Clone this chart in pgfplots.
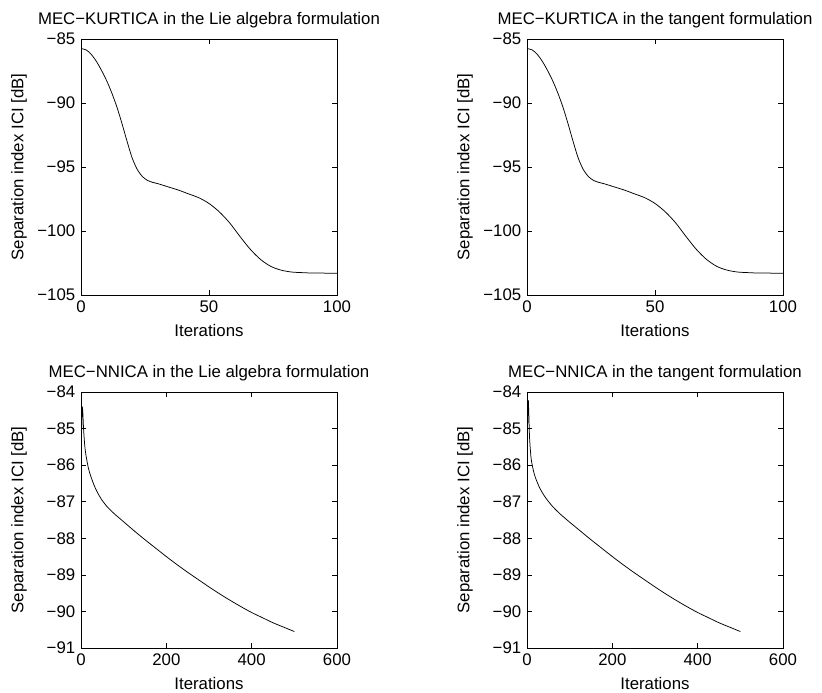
\documentclass[border=0pt]{standalone}
\usepackage{pgfplots}
\pgfplotsset{compat=1.18}
\usepackage{fontspec}
\setmainfont{Liberation Sans}

\pgfplotstableread{
x y
0 -85.75
2 -85.85
4 -86.2
6 -86.75
8 -87.45
10 -88.25
12 -89.2
14 -90.3
16 -91.6
18 -93.0
20 -94.3
22 -95.2
24 -95.75
26 -96.05
28 -96.2
30 -96.3
34 -96.55
38 -96.8
42 -97.1
46 -97.4
50 -97.85
54 -98.5
58 -99.35
62 -100.4
66 -101.4
70 -102.2
74 -102.75
78 -103.05
82 -103.2
86 -103.25
90 -103.28
100 -103.3
}\kurtLie

\pgfplotstableread{
x y
0 -85.75
2 -85.85
4 -86.2
6 -86.75
8 -87.45
10 -88.25
12 -89.2
14 -90.3
16 -91.6
18 -93.0
20 -94.3
22 -95.2
24 -95.75
26 -96.05
28 -96.2
30 -96.3
34 -96.55
38 -96.8
42 -97.1
46 -97.4
50 -97.85
54 -98.5
58 -99.35
62 -100.4
66 -101.4
70 -102.2
74 -102.75
78 -103.05
82 -103.2
86 -103.25
90 -103.28
100 -103.3
}\kurtTan

\pgfplotstableread{
x y
0 -86.2
1 -85.3
2 -84.7
3 -84.42
4 -84.5
5 -84.75
6 -85.0
8 -85.35
10 -85.6
15 -85.95
20 -86.2
30 -86.53
40 -86.78
50 -86.97
60 -87.12
70 -87.24
80 -87.35
90 -87.45
100 -87.55
125 -87.8
150 -88.04
175 -88.27
200 -88.5
225 -88.72
250 -88.93
275 -89.13
300 -89.33
325 -89.52
350 -89.7
375 -89.87
400 -90.03
425 -90.17
450 -90.31
475 -90.43
500 -90.55
}\nnLie

\pgfplotstableread{
x y
0 -86.3
1 -85.2
2 -84.5
3 -84.22
4 -84.5
5 -84.9
6 -85.25
8 -85.6
10 -85.85
15 -86.15
20 -86.35
30 -86.63
40 -86.83
50 -86.99
60 -87.13
70 -87.25
80 -87.36
90 -87.46
100 -87.56
125 -87.8
150 -88.04
175 -88.27
200 -88.5
225 -88.72
250 -88.93
275 -89.13
300 -89.33
325 -89.52
350 -89.7
375 -89.87
400 -90.03
425 -90.17
450 -90.31
475 -90.43
500 -90.55
}\nnTan

\pgfplotsset{
  mec/.style={
    scale only axis,
    width=256pt, height=256pt,
    anchor=south west,
    tick align=inside,
    major tick length=5pt,
    axis line style={line width=0.75pt},
    every tick/.style={black, line width=0.6pt},
    /pgf/number format/assume math mode=true,
    title style={at={(axis description cs:0.5,1)}, anchor=base, yshift=8pt},
    ylabel style={at={(axis description cs:-0.242,0.5)}, anchor=center},
    xlabel style={at={(axis description cs:0.5,-0.137)}, anchor=center},
    ylabel={Separation index ICI [dB]},
    xlabel={Iterations},
  },
  kurt/.style={
    mec,
    xmin=0, xmax=100, ymin=-105, ymax=-85,
    xtick={0,50,100},
    ytick={-105,-100,-95,-90,-85},
    yticklabels={−105,−100,−95,−90,−85},
  },
  nn/.style={
    mec,
    xmin=0, xmax=600, ymin=-91, ymax=-84,
    xtick={0,200,400,600},
    ytick={-91,-90,-89,-88,-87,-86,-85,-84},
    yticklabels={−91,−90,−89,−88,−87,−86,−85,−84},
  },
}

\begin{document}
\fontsize{16.8}{20}\selectfont
\begin{tikzpicture}
\path[use as bounding box] (0pt,0pt) rectangle (822pt,693pt);

\begin{axis}[kurt, at={(81pt,398pt)}, title={MEC−KURTICA in the Lie algebra formulation}]
\addplot[black, line width=0.75pt, smooth, tension=0.5] table {\kurtLie};
\end{axis}

\begin{axis}[kurt, at={(527pt,398pt)}, title={MEC−KURTICA in the tangent formulation}]
\addplot[black, line width=0.75pt, smooth, tension=0.5] table {\kurtTan};
\end{axis}

\begin{axis}[nn, at={(81pt,45pt)}, title={MEC−NNICA in the Lie algebra formulation}]
\addplot[black, line width=0.75pt, smooth, tension=0.5] table {\nnLie};
\end{axis}

\begin{axis}[nn, at={(527pt,45pt)}, title={MEC−NNICA in the tangent formulation}]
\addplot[black, line width=0.75pt, smooth, tension=0.5] table {\nnTan};
\end{axis}
\end{tikzpicture}
\end{document}
